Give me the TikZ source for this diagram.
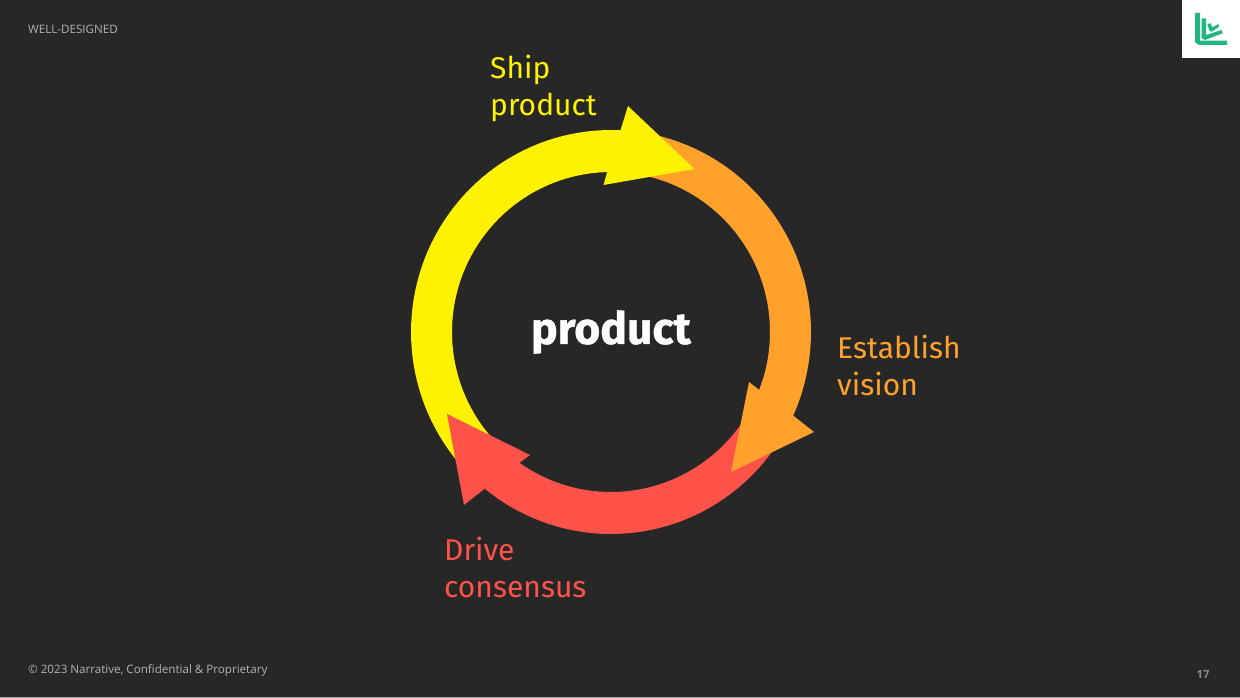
\documentclass[tikz,border=0pt]{standalone}
\usepackage{fontspec}
\setmainfont{Open Sans}
\newfontfamily\labelfont{Fira Sans}
\newfontfamily\bigfont[FakeBold=0.9]{Fira Sans Bold}
\definecolor{bgdark}{HTML}{272727}
\definecolor{ringyellow}{HTML}{FFF200}
\definecolor{ringorange}{HTML}{FFA12B}
\definecolor{ringred}{HTML}{FF5349}
\definecolor{smallgrey}{HTML}{B4B4B4}
\definecolor{logogreen}{HTML}{23B684}
\definecolor{edgegrey}{HTML}{A8A8A8}
\definecolor{pagegrey}{HTML}{8C8C8C}
\tikzset{
  x=1pt,y=-1pt,
  lbl/.style={anchor=north west,inner sep=0pt,align=left,font=\labelfont\fontsize{30}{37}\selectfont},
  small/.style={anchor=west,inner sep=0pt,text=smallgrey,font=\fontsize{11.6}{14}\selectfont},
}
\begin{document}
\begin{tikzpicture}
\useasboundingbox (0,0) rectangle (1240,698);
\fill[bgdark] (0,0) rectangle (1240,698);
\fill[edgegrey] (0,697) rectangle (1240,698);
% ring bodies (angles in screen sense, y down)
\fill[ringred] plot[domain=17:131,samples=60] ({611+200*cos(\x)},{332+202*sin(\x)}) -- plot[domain=131:17,samples=60] ({611+159*cos(\x)},{332+160*sin(\x)}) -- cycle;
\fill[ringyellow] plot[domain=135:275,samples=60] ({611+200*cos(\x)},{332+202*sin(\x)}) -- plot[domain=275:135,samples=60] ({611+159*cos(\x)},{332+160*sin(\x)}) -- cycle;
\fill[ringorange] plot[domain=-80:27,samples=60] ({611+200*cos(\x)},{332+202*sin(\x)}) -- plot[domain=27:-80,samples=60] ({611+159*cos(\x)},{332+160*sin(\x)}) -- cycle;
% arrow heads
\fill[ringyellow] (620.6,129.8) -- (628,106) -- (694.5,169) -- (603.5,185) -- (607,172.4) -- cycle;
\fill[ringorange] (795,417) -- (814,432) -- (731,472) -- (749,382) -- (760,390.5) -- cycle;
\fill[ringred] (518,464) -- (530,455) -- (447,414) -- (464,505) -- (483,490) -- cycle;
% labels
\node[lbl,text=ringyellow] (ship) at (490,55) {Ship\\product};
\node[lbl,text=ringorange] (vision) at (837,335) {Establish\\vision};
\node[lbl,text=ringred] (drive) at (444,537) {Drive\\consensus};
\node[inner sep=0pt,text=white,font=\bigfont\fontsize{44.5}{54}\selectfont] (prod) at (611,332) {product};
% small text
\node[small] (head) at (28,29.5) {WELL-DESIGNED};
\node[small] (foot) at (28,670.5) {© 2023 Narrative, Confidential \& Proprietary};
\node[small,anchor=center,font=\bfseries\fontsize{11.2}{14}\selectfont,text=pagegrey] (page) at (1203,674) {17};
% logo
\fill[white] (1182,0) rectangle (1240,58.5);
\fill[logogreen] (1195,13) -- (1200,13) -- (1200,40.7) -- (1227,40.7) -- (1227,45) -- (1199,45) -- (1195,42) -- cycle;
\fill[logogreen] (1201.7,18.3) -- (1206,18.3) -- (1206,35) -- (1221.7,30) -- (1222.7,33.3) -- (1205,40) -- (1201.7,38.3) -- cycle;
\fill[logogreen] (1207.3,24) -- (1210.7,23.3) -- (1212.3,27.3) -- (1218.3,24) -- (1219.3,26.7) -- (1211.7,31.7) -- (1209.3,30.7) -- cycle;
\end{tikzpicture}
\end{document}
